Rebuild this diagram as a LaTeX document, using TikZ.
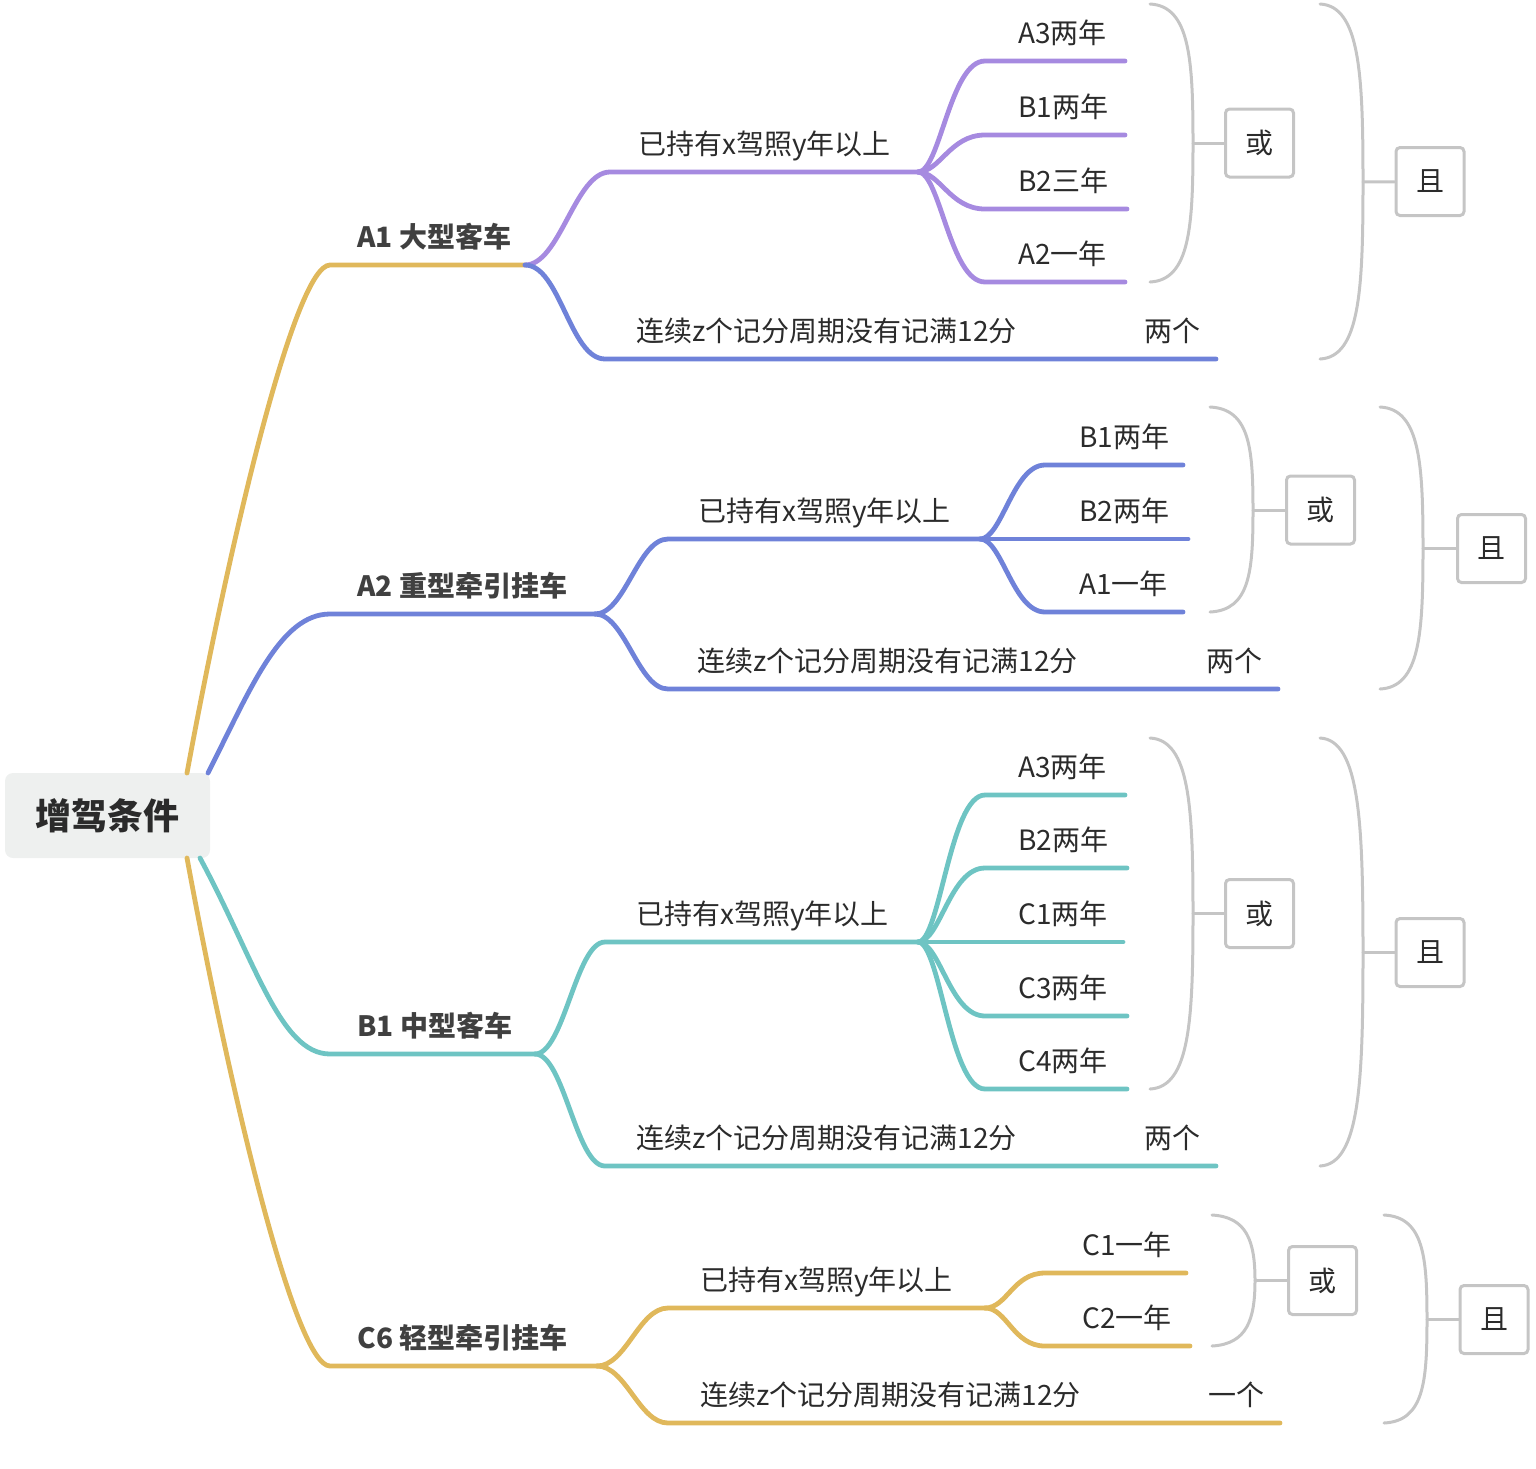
\documentclass[tikz,border=0pt]{standalone}
\usepackage{fontspec}
\setmainfont{Noto Sans CJK SC}
\usepackage{xcolor}
\usepackage{tikz}

\definecolor{mmgold}{HTML}{E0B85B}
\definecolor{mmpurple}{HTML}{A68AE0}
\definecolor{mmblue}{HTML}{6F82D9}
\definecolor{mmteal}{HTML}{6EC4C3}
\definecolor{mmgray}{HTML}{C5C5C5}
\definecolor{rootbg}{HTML}{EEF0EF}
\definecolor{txt}{HTML}{2B2B2B}

\begin{document}
\begin{tikzpicture}[x=0.5pt, y=-0.5pt, line width=2.4pt, line cap=round,
        topic/.style={anchor=base west, inner sep=0pt, text=txt, font=\fontsize{14pt}{16pt}\selectfont},
        branch/.style={topic, text=txt!90, font=\fontsize{14pt}{16pt}\selectfont\bfseries},
        logic/.style={draw=mmgray, line width=1.5pt, rounded corners=2pt, minimum width=34pt, minimum height=34pt, inner sep=0pt, text=txt, font=\fontsize{14pt}{16pt}\selectfont},
        brace/.style={draw=mmgray, line width=1.5pt}]
        \useasboundingbox (0,0) rectangle (1536,1468);

        \node[fill=rootbg, rounded corners=4pt, minimum width=102.5pt, minimum height=42.5pt, text=txt, font=\fontsize{18pt}{20pt}\selectfont\bfseries] (root) at (107.5,815.5) {增驾条件};
        \coordinate (r1) at (187,773);
        \coordinate (r2) at (208,773);
        \coordinate (r3) at (200,858);
        \coordinate (r4) at (187,858);

        \node[branch] (a1) at (355,247) {A1 大型客车};
        \coordinate (a1s) at (330,265); \coordinate (a1e) at (525,265);
        \draw[mmgold] (r1) .. controls (230,540) and (295,265) .. (a1s) -- (a1e);

        \node[topic] (a1h) at (636,154) {已持有x驾照y年以上};
        \coordinate (a1hs) at (610,172); \coordinate (a1he) at (918,172);
        \draw[mmpurple] (a1e) .. controls +(35,0) and +(-35,0) .. (a1hs) -- (a1he);

        \node[topic] (a1h1) at (1016,43) {A3两年};
        \coordinate (a1h1s) at (985,61); \coordinate (a1h1e) at (1125,61);
        \draw[mmpurple] (a1he) .. controls +(22,0) and +(-35,0) .. (a1h1s) -- (a1h1e);
        \node[topic] (a1h2) at (1016,117) {B1两年};
        \coordinate (a1h2s) at (985,135); \coordinate (a1h2e) at (1125,135);
        \draw[mmpurple] (a1he) .. controls +(22,0) and +(-35,0) .. (a1h2s) -- (a1h2e);
        \node[topic] (a1h3) at (1016,191) {B2三年};
        \coordinate (a1h3s) at (985,209); \coordinate (a1h3e) at (1127,209);
        \draw[mmpurple] (a1he) .. controls +(22,0) and +(-35,0) .. (a1h3s) -- (a1h3e);
        \node[topic] (a1h4) at (1016,264) {A2一年};
        \coordinate (a1h4s) at (985,282); \coordinate (a1h4e) at (1125,282);
        \draw[mmpurple] (a1he) .. controls +(22,0) and +(-35,0) .. (a1h4s) -- (a1h4e);

        \node[topic] (a1p) at (634,341) {连续z个记分周期没有记满12分};
        \node[topic] (a1n) at (1142,341) {两个};
        \coordinate (a1ps) at (605,359); \coordinate (a1pe) at (1216,359);
        \draw[mmblue] (a1e) .. controls +(35,0) and +(-35,0) .. (a1ps) -- (a1pe);

        \coordinate (a1o1) at (1150,4); \coordinate (a1o2) at (1193,143); \coordinate (a1o3) at (1150,282);
        \draw[brace] (a1o1) .. controls +(40,2) and +(0,-83) .. (a1o2) .. controls +(0,83) and +(40,-2) .. (a1o3);
        \node[logic] (a1or) at (1259.5,143) {或};
        \draw[brace] (a1o2) -- (a1or);
        \coordinate (a1a1) at (1320,4); \coordinate (a1a2) at (1363,182); \coordinate (a1a3) at (1320,359);
        \draw[brace] (a1a1) .. controls +(40,2) and +(0,-107) .. (a1a2) .. controls +(0,107) and +(40,-2) .. (a1a3);
        \node[logic] (a1and) at (1430,181.5) {且};
        \draw[brace] (a1a2) -- (a1and);

        \node[branch] (a2) at (355,596) {A2 重型牵引挂车};
        \coordinate (a2s) at (330,614); \coordinate (a2e) at (595,614);
        \draw[mmblue] (r2) .. controls (250,690) and (280,614) .. (a2s) -- (a2e);

        \node[topic] (a2h) at (696,521) {已持有x驾照y年以上};
        \coordinate (a2hs) at (668,539); \coordinate (a2he) at (980,539);
        \draw[mmblue] (a2e) .. controls +(30,0) and +(-30,0) .. (a2hs) -- (a2he);

        \node[topic] (a2h1) at (1077,447) {B1两年};
        \coordinate (a2h1s) at (1045,465); \coordinate (a2h1e) at (1183,465);
        \draw[mmblue] (a2he) .. controls +(22,0) and +(-32,0) .. (a2h1s) -- (a2h1e);
        \node[topic] (a2h2) at (1077,521) {B2两年};
        \coordinate (a2h2e) at (1188,539);
        \draw[mmblue] (a2he) -- (a2h2e);
        \node[topic] (a2h3) at (1077,594) {A1一年};
        \coordinate (a2h3s) at (1045,612); \coordinate (a2h3e) at (1183,612);
        \draw[mmblue] (a2he) .. controls +(22,0) and +(-32,0) .. (a2h3s) -- (a2h3e);

        \node[topic] (a2p) at (695,671) {连续z个记分周期没有记满12分};
        \node[topic] (a2n) at (1204,671) {两个};
        \coordinate (a2ps) at (668,689); \coordinate (a2pe) at (1278,689);
        \draw[mmblue] (a2e) .. controls +(30,0) and +(-30,0) .. (a2ps) -- (a2pe);

        \coordinate (a2o1) at (1210,407); \coordinate (a2o2) at (1253,510); \coordinate (a2o3) at (1210,612);
        \draw[brace] (a2o1) .. controls +(40,2) and +(0,-61) .. (a2o2) .. controls +(0,61) and +(40,-2) .. (a2o3);
        \node[logic] (a2or) at (1320.5,510) {或};
        \draw[brace] (a2o2) -- (a2or);
        \coordinate (a2a1) at (1380,407); \coordinate (a2a2) at (1423,548.5); \coordinate (a2a3) at (1380,689);
        \draw[brace] (a2a1) .. controls +(40,2) and +(0,-85) .. (a2a2) .. controls +(0,85) and +(40,-2) .. (a2a3);
        \node[logic] (a2and) at (1491.5,548.5) {且};
        \draw[brace] (a2a2) -- (a2and);

        \node[branch] (b1) at (355,1036) {B1 中型客车};
        \coordinate (b1s) at (330,1054); \coordinate (b1e) at (535,1054);
        \draw[mmteal] (r3) .. controls (255,960) and (280,1054) .. (b1s) -- (b1e);

        \node[topic] (b1h) at (634,924) {已持有x驾照y年以上};
        \coordinate (b1hs) at (605,942); \coordinate (b1he) at (918,942);
        \draw[mmteal] (b1e) .. controls +(29,0) and +(-29,0) .. (b1hs) -- (b1he);

        \node[topic] (b1h1) at (1016,777) {A3两年};
        \coordinate (b1h1s) at (985,795); \coordinate (b1h1e) at (1125,795);
        \draw[mmteal] (b1he) .. controls +(22,0) and +(-35,0) .. (b1h1s) -- (b1h1e);
        \node[topic] (b1h2) at (1016,850) {B2两年};
        \coordinate (b1h2s) at (985,868); \coordinate (b1h2e) at (1127,868);
        \draw[mmteal] (b1he) .. controls +(22,0) and +(-35,0) .. (b1h2s) -- (b1h2e);
        \node[topic] (b1h3) at (1016,924) {C1两年};
        \coordinate (b1h3e) at (1123,942);
        \draw[mmteal] (b1he) -- (b1h3e);
        \node[topic] (b1h4) at (1016,998) {C3两年};
        \coordinate (b1h4s) at (985,1016); \coordinate (b1h4e) at (1127,1016);
        \draw[mmteal] (b1he) .. controls +(22,0) and +(-35,0) .. (b1h4s) -- (b1h4e);
        \node[topic] (b1h5) at (1016,1071) {C4两年};
        \coordinate (b1h5s) at (985,1089); \coordinate (b1h5e) at (1127,1089);
        \draw[mmteal] (b1he) .. controls +(22,0) and +(-35,0) .. (b1h5s) -- (b1h5e);

        \node[topic] (b1p) at (634,1148) {连续z个记分周期没有记满12分};
        \node[topic] (b1n) at (1142,1148) {两个};
        \coordinate (b1ps) at (605,1166); \coordinate (b1pe) at (1216,1166);
        \draw[mmteal] (b1e) .. controls +(29,0) and +(-29,0) .. (b1ps) -- (b1pe);

        \coordinate (b1o1) at (1150,738); \coordinate (b1o2) at (1193,913.5); \coordinate (b1o3) at (1150,1089);
        \draw[brace] (b1o1) .. controls +(40,2) and +(0,-105) .. (b1o2) .. controls +(0,105) and +(40,-2) .. (b1o3);
        \node[logic] (b1or) at (1259.5,913.5) {或};
        \draw[brace] (b1o2) -- (b1or);
        \coordinate (b1a1) at (1320,738); \coordinate (b1a2) at (1363,952.5); \coordinate (b1a3) at (1320,1166);
        \draw[brace] (b1a1) .. controls +(40,2) and +(0,-128) .. (b1a2) .. controls +(0,128) and +(40,-2) .. (b1a3);
        \node[logic] (b1and) at (1430,952.5) {且};
        \draw[brace] (b1a2) -- (b1and);

        \node[branch] (c6) at (355,1348) {C6 轻型牵引挂车};
        \coordinate (c6s) at (330,1366); \coordinate (c6e) at (597,1366);
        \draw[mmgold] (r4) .. controls (230,1091) and (295,1366) .. (c6s) -- (c6e);

        \node[topic] (c6h) at (698,1290) {已持有x驾照y年以上};
        \coordinate (c6hs) at (668,1308); \coordinate (c6he) at (985,1308);
        \draw[mmgold] (c6e) .. controls +(29,0) and +(-29,0) .. (c6hs) -- (c6he);

        \node[topic] (c6h1) at (1080,1255) {C1一年};
        \coordinate (c6h1s) at (1045,1273); \coordinate (c6h1e) at (1186,1273);
        \draw[mmgold] (c6he) .. controls +(22,0) and +(-32,0) .. (c6h1s) -- (c6h1e);
        \node[topic] (c6h2) at (1080,1328) {C2一年};
        \coordinate (c6h2s) at (1045,1346); \coordinate (c6h2e) at (1190,1346);
        \draw[mmgold] (c6he) .. controls +(22,0) and +(-32,0) .. (c6h2s) -- (c6h2e);

        \node[topic] (c6p) at (698,1405) {连续z个记分周期没有记满12分};
        \node[topic] (c6n) at (1206,1405) {一个};
        \coordinate (c6ps) at (668,1423); \coordinate (c6pe) at (1280,1423);
        \draw[mmgold] (c6e) .. controls +(29,0) and +(-29,0) .. (c6ps) -- (c6pe);

        \coordinate (c6o1) at (1212,1215); \coordinate (c6o2) at (1255,1280.5); \coordinate (c6o3) at (1212,1346);
        \draw[brace] (c6o1) .. controls +(35,2) and +(0,-39) .. (c6o2) .. controls +(0,39) and +(35,-2) .. (c6o3);
        \node[logic] (c6or) at (1322.5,1280.5) {或};
        \draw[brace] (c6o2) -- (c6or);
        \coordinate (c6a1) at (1384,1215); \coordinate (c6a2) at (1427,1319.5); \coordinate (c6a3) at (1384,1423);
        \draw[brace] (c6a1) .. controls +(40,2) and +(0,-62) .. (c6a2) .. controls +(0,62) and +(40,-2) .. (c6a3);
        \node[logic] (c6and) at (1494,1319.5) {且};
        \draw[brace] (c6a2) -- (c6and);
    \end{tikzpicture}
\end{document}
